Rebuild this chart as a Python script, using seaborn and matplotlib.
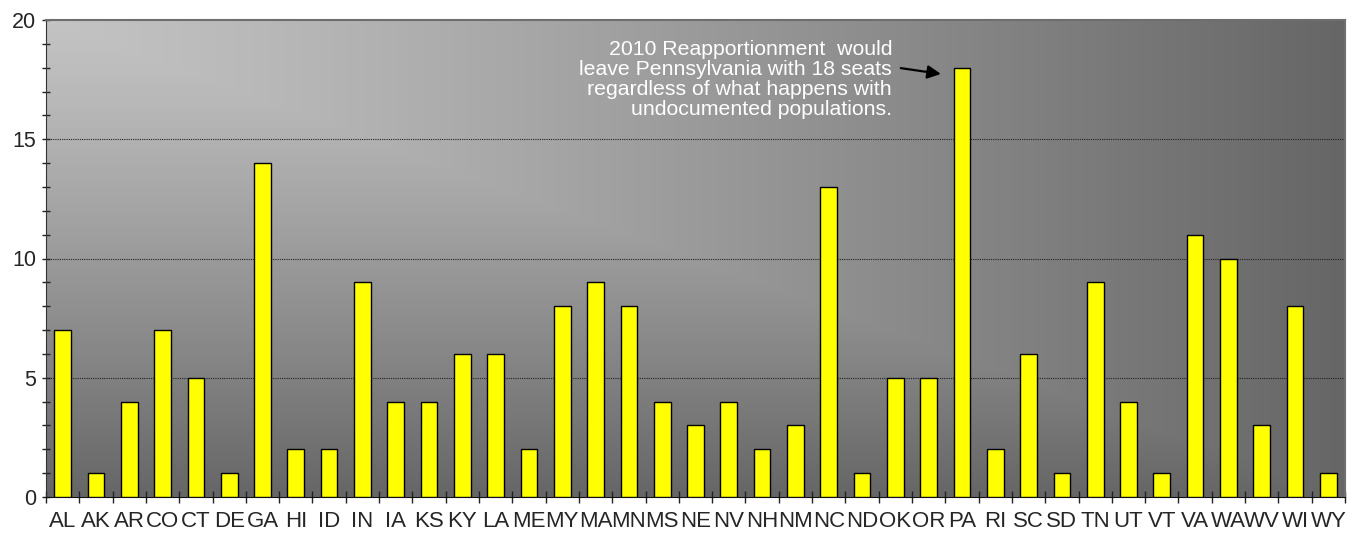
import matplotlib
matplotlib.use("Agg")
import matplotlib.pyplot as plt
from matplotlib.colors import LinearSegmentedColormap
import numpy as np
import pandas as pd
import seaborn as sns

states = ["AL", "AK", "AR", "CO", "CT", "DE", "GA", "HI", "ID", "IN", "IA", "KS", "KY",
          "LA", "ME", "MY", "MA", "MN", "MS", "NE", "NV", "NH", "NM", "NC", "ND", "OK",
          "OR", "PA", "RI", "SC", "SD", "TN", "UT", "VT", "VA", "WA", "WV", "WI", "WY"]
seats = [7, 1, 4, 7, 5, 1, 14, 2, 2, 9, 4, 4, 6,
         6, 2, 8, 9, 8, 4, 3, 4, 2, 3, 13, 1, 5,
         5, 18, 2, 6, 1, 9, 4, 1, 11, 10, 3, 8, 1]
note = ("2010 Reapportionment  would\nleave Pennsylvania with 18 seats\n"
        "regardless of what happens with\nundocumented populations.")

df = pd.DataFrame({"state": states, "seats": seats})

sns.set_style("white")
plt.rcParams["font.family"] = ["Liberation Sans", "DejaVu Sans"]

fig = plt.figure(figsize=(13.61, 5.33), dpi=100)
ax = fig.add_axes([46 / 1361, 1 - 497 / 533, 1299 / 1361, 477 / 533])

# corner gradient background (light top-left -> dark)
u, v = np.meshgrid(np.linspace(0, 1, 400), np.linspace(0, 1, 200))
grad = np.maximum(u, v) ** 1.2
cmap = LinearSegmentedColormap.from_list("bg", ["#c3c3c3", "#666666"])
ax.imshow(grad, cmap=cmap, extent=[0, 1, 0, 1], transform=ax.transAxes,
          aspect="auto", zorder=0, origin="upper")

sns.barplot(data=df, x="state", y="seats", color="#ffff00", saturation=1,
            edgecolor="black", linewidth=1, width=0.5, ax=ax, zorder=3)

ax.set_xlim(-0.5, len(states) - 0.5)
ax.set_ylim(0, 20)
ax.set_xlabel("")
ax.set_ylabel("")

ax.set_yticks([0, 5, 10, 15, 20])
ax.set_yticks(range(0, 21), minor=True)
for y in [5, 10, 15]:
    ax.axhline(y, color="#222222", linestyle=(0, (1, 1)), linewidth=0.8, zorder=2)

ax.set_xticks(np.arange(-0.5, len(states), 1.0), minor=True)
ax.tick_params(axis="x", which="major", length=0, pad=10, labelsize=16)
ax.tick_params(axis="x", which="minor", direction="inout", length=8, width=1, color="#222222", bottom=True)
ax.tick_params(axis="y", which="both", direction="inout", length=6, width=1, color="#222222",
               left=True, labelsize=15.5, pad=4)

for side in ["top", "right"]:
    ax.spines[side].set_color("#6e6e6e")
    ax.spines[side].set_linewidth(1.5)
ax.spines["left"].set_color("#333333")
ax.spines["bottom"].set_color("#111111")

ax.text(24.9, 17.5, note, ha="right", va="center", color="white", fontsize=15.3, linespacing=1.08)
ax.annotate("", xy=(26.45, 17.72), xytext=(25.08, 18.0),
            arrowprops=dict(arrowstyle="-|>", color="black", lw=1.6, mutation_scale=20))

plt.savefig("out.png", dpi=100)
